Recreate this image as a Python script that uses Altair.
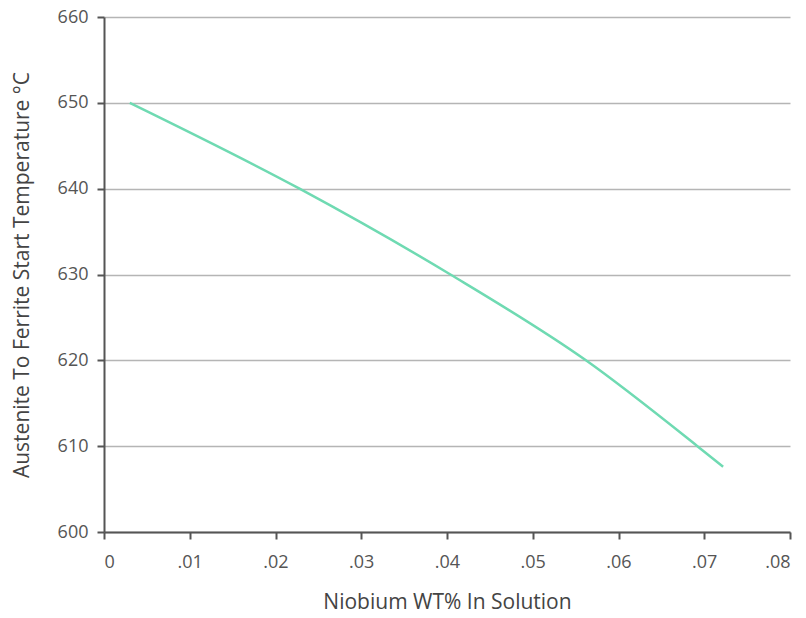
import altair as alt
import pandas as pd

niobium = [0.0030, 0.0228, 0.0404, 0.0562, 0.0692, 0.0722]
temperature = [650.0, 640.0, 630.0, 620.0, 610.0, 607.6]

df = pd.DataFrame({"nb": niobium, "t": temperature})

font = "Open Sans"

chart = alt.Chart(df).mark_line(
    color="#6fdab2", strokeWidth=2.5, interpolate="monotone"
).encode(
    x=alt.X("nb:Q", title="Niobium WT% In Solution",
            scale=alt.Scale(domain=[0, 0.08], nice=False, zero=False),
            axis=alt.Axis(values=[0, 0.01, 0.02, 0.03, 0.04, 0.05, 0.06, 0.07, 0.08],
                          labelExpr="datum.value == 0 ? '0' : replace(format(datum.value, '.2f'), '0.', '.')",
                          grid=False, tickSize=7, labelPadding=14, titlePadding=20)),
    y=alt.Y("t:Q", title="Austenite To Ferrite Start Temperature °C",
            scale=alt.Scale(domain=[600, 660], nice=False, zero=False),
            axis=alt.Axis(values=[600, 610, 620, 630, 640, 650, 660],
                          grid=True, tickSize=7, labelPadding=9, titlePadding=25)),
).properties(
    width=686, height=515,
    autosize=alt.AutoSizeParams(type="none"),
    padding={"left": 96, "top": 9, "right": 8, "bottom": 86},
).configure_view(
    stroke=None
).configure_axis(
    labelFont=font, titleFont=font, labelFontSize=18, titleFontSize=21,
    labelColor="#555555", titleColor="#444444", titleFontWeight="normal",
    domainColor="#555555", domainWidth=2, tickColor="#555555", tickWidth=2,
    gridColor="#b5b5b5", gridWidth=1.5,
)

chart.save("out.html", embed_options={"renderer": "svg", "actions": False})
